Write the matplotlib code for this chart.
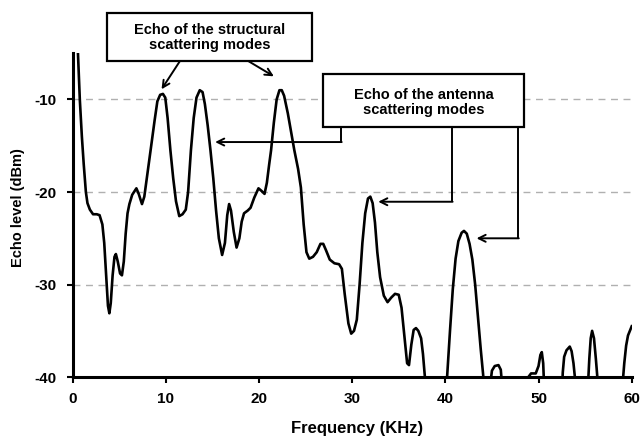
import matplotlib
matplotlib.use("Agg")
import matplotlib.pyplot as plt
from matplotlib.patches import Rectangle

plt.rcParams['font.family'] = ['Liberation Sans', 'DejaVu Sans']
plt.rcParams['font.weight'] = 'bold'
plt.rcParams['axes.unicode_minus'] = False

freq = [0.5, 0.78, 1.0, 1.2, 1.43, 1.6, 1.86, 2.2, 2.6, 2.9, 3.2, 3.4, 3.6, 3.8, 3.95, 4.1, 4.3, 4.5, 4.65,
        4.85, 5.1, 5.3, 5.5, 5.7, 5.9, 6.1, 6.4, 6.85, 7.1, 7.45, 7.7, 8.0, 8.4, 8.8, 9.1, 9.4, 9.7, 9.95,
        10.2, 10.5, 10.8, 11.1, 11.45, 11.8, 12.15, 12.4, 12.7, 13.0, 13.3, 13.65, 13.95, 14.2, 14.5, 14.8,
        15.1, 15.4, 15.7, 16.05, 16.35, 16.6, 16.8, 17.0, 17.3, 17.6, 17.9, 18.15, 18.4, 18.8, 19.1, 19.5,
        19.95, 20.3, 20.6, 20.85, 21.1, 21.3, 21.6, 21.9, 22.2, 22.45, 22.7, 23.1, 23.5, 23.8, 24.2, 24.5,
        24.8, 25.1, 25.4, 25.8, 26.2, 26.6, 26.9, 27.2, 27.6, 28.1, 28.6, 28.9, 29.2, 29.6, 29.9, 30.2,
        30.5, 30.8, 31.1, 31.4, 31.7, 31.95, 32.2, 32.45, 32.7, 33.0, 33.4, 33.8, 34.2, 34.6, 35.0, 35.3,
        35.6, 35.9, 36.1, 36.35, 36.6, 36.85, 37.1, 37.4, 37.6, 37.85, 38.0, 39.1,
        40.0, 40.25, 40.5, 40.8, 41.1, 41.4, 41.75, 42.0, 42.3, 42.6, 42.9, 43.2, 43.5, 43.8, 44.1, 44.3,
        44.5, 44.8, 45.0, 45.3, 45.7, 45.95, 46.1, 46.3,
        47.5, 48.7, 48.9, 49.2, 49.7, 50.0, 50.2, 50.35, 50.5, 50.6, 50.8,
        51.8, 52.5, 52.6, 52.75, 53.0, 53.35, 53.55, 53.75, 53.95, 54.2,
        54.8, 55.3, 55.45, 55.6, 55.75, 55.95, 56.15, 56.35, 56.6,
        57.9, 59.0, 59.2, 59.4, 59.6, 59.8, 60.0]
level = [-3.0, -10.0, -14.0, -17.0, -20.0, -21.2, -21.9, -22.4, -22.4, -22.5, -23.5, -25.5, -29.0, -32.3, -33.1,
         -32.0, -29.0, -27.0, -26.7, -27.5, -28.8, -29.0, -27.5, -24.5, -22.3, -21.3, -20.3, -19.6, -20.2,
         -21.3, -20.5, -18.3, -15.3, -12.3, -10.2, -9.5, -9.4, -9.8, -12.0, -15.5, -18.5, -21.0, -22.6,
         -22.4, -21.9, -20.0, -15.5, -12.0, -9.8, -9.0, -9.2, -10.5, -12.8, -15.5, -18.5, -22.0, -25.0,
         -26.8, -25.5, -22.5, -21.3, -22.0, -24.3, -26.0, -25.0, -23.2, -22.3, -22.0, -21.7, -20.6, -19.6,
         -19.9, -20.2, -19.0, -17.0, -15.5, -12.5, -10.0, -9.0, -9.0, -9.6, -11.5, -13.8, -15.5, -17.5,
         -19.5, -23.5, -26.5, -27.2, -27.0, -26.5, -25.6, -25.6, -26.3, -27.3, -27.7, -27.8, -28.3, -31.0,
         -34.2, -35.3, -35.0, -33.8, -30.0, -25.5, -22.3, -20.7, -20.5, -21.2, -23.3, -26.5, -29.2, -31.2,
         -31.9, -31.4, -31.0, -31.1, -32.5, -35.5, -38.5, -38.7, -36.5, -34.9, -34.7, -35.0, -35.8, -37.5,
         -40.5, -43.0, -50.0,
         -43.0, -39.0, -35.0, -30.5, -27.2, -25.3, -24.4, -24.2, -24.5, -25.6, -27.3, -30.0, -33.5, -37.0,
         -40.2, -43.0,
         -45.0, -41.0, -39.3, -38.8, -38.7, -39.2, -41.0, -45.0,
         -48.0, -41.0, -40.0, -39.6, -39.6, -38.8, -37.6, -37.3, -38.5, -41.0, -45.0,
         -48.0, -42.0, -39.5, -37.8, -37.1, -36.7, -37.2, -38.5, -40.5, -44.0,
         -46.0, -41.0, -38.0, -35.8, -35.0, -35.8, -38.0, -40.5, -44.0,
         -47.0, -41.0, -38.5, -36.6, -35.5, -35.0, -34.5]

xticks = [0, 10, 20, 30, 40, 50, 60]
yticks = [-40, -30, -20, -10]
xlabel = "Frequency (KHz)"
ylabel = "Echo level (dBm)"
box1_text = "Echo of the structural\nscattering modes"
box2_text = "Echo of the antenna\nscattering modes"

fig = plt.figure(figsize=(6.42, 4.36), dpi=100)
ax = fig.add_axes([0.113, 0.135, 0.871, 0.743])

for yv in [-10, -20, -30]:
    ax.axhline(yv, color='#b0b0b0', lw=1.0, ls=(0, (5, 4)), zorder=1)

ax.plot(freq, level, color='black', lw=1.9, zorder=3, solid_joinstyle='round')

ax.set_xlim(0, 60)
ax.set_ylim(-40, -5)
ax.set_xticks(xticks)
ax.set_yticks(yticks)
ax.tick_params(direction='out', length=4, width=1.5, labelsize=11)
ax.tick_params(axis='x', pad=7)
ax.tick_params(axis='y', pad=7.5)
for lab in ax.get_xticklabels() + ax.get_yticklabels():
    lab.set_fontweight('bold')
for s in ['top', 'right']:
    ax.spines[s].set_visible(False)
for s in ['left', 'bottom']:
    ax.spines[s].set_linewidth(2.2)

fig.text(357 / 642, 1 - 428 / 436, xlabel, fontsize=12, fontweight='bold', ha='center', va='center')
fig.text(18 / 642, 1 - 207.5 / 436, ylabel, fontsize=10.5, fontweight='bold', ha='center',
         va='center', rotation=90)

# boxes
ax.add_patch(Rectangle((3.68, -5.84), 22.02, 5.19, fc='white', ec='black', lw=1.6,
                       zorder=5, clip_on=False))
ax.text(14.7, -3.35, box1_text, ha='center', va='center', fontsize=10.5, fontweight='bold',
        zorder=6, clip_on=False, linespacing=1.1)
ax.add_patch(Rectangle((26.9, -13.0), 21.5, 5.72, fc='white', ec='black', lw=1.6, zorder=5))
ax.text(37.65, -10.3, box2_text, ha='center', va='center', fontsize=10.5, fontweight='bold',
        zorder=6, linespacing=1.1)

arrow = dict(arrowstyle='->,head_length=0.5,head_width=0.25', color='black', lw=1.4,
             shrinkA=0, shrinkB=0)
ax.annotate('', xy=(9.55, -8.9), xytext=(11.53, -5.84), arrowprops=arrow, annotation_clip=False)
ax.annotate('', xy=(21.6, -7.5), xytext=(18.84, -5.84), arrowprops=arrow, annotation_clip=False)

for xb, yc, xt in [(28.8, -14.6, 15.3), (40.7, -21.05, 32.8), (47.8, -25.0, 43.35)]:
    ax.plot([xb, xb], [-13.0, yc], color='black', lw=1.4, zorder=4, solid_capstyle='butt')
    ax.annotate('', xy=(xt, yc), xytext=(xb + 0.08, yc), arrowprops=arrow)

fig.savefig('out.png', dpi=100)
